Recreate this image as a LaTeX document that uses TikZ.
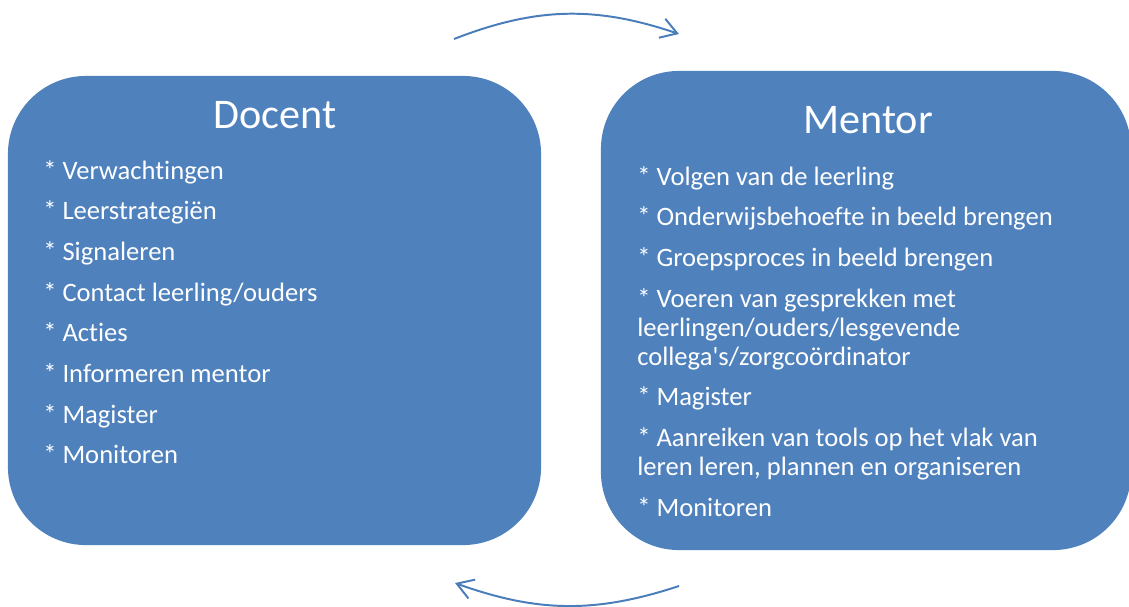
\documentclass[tikz,border=0pt]{standalone}
\usepackage{fontspec}
\setmainfont{Carlito}
\newfontfamily\kaderfont{Carlito}[Ligatures=NoCommon]
\usepackage{tikz}
\usetikzlibrary{positioning}
\usetikzlibrary{arrows.meta}
\definecolor{blokblauw}{HTML}{4F81BD}
\definecolor{pijlblauw}{HTML}{4A7EBB}
\tikzset{blok/.style={fill=blokblauw, rounded corners=1.95cm, inner sep=0pt}}
\tikzset{titel/.style={text=white, font=\kaderfont\fontsize{30}{36}\selectfont, inner sep=0pt, anchor=base}}
\tikzset{lijst/.style={text=white, font=\kaderfont\fontsize{18.9}{20.6}\selectfont, align=left, inner sep=0pt, anchor=north west}}
\tikzset{pijl/.style={draw=pijlblauw, line width=1.4pt, -{Straight Barb[length=0.4cm, width=0.5cm]}}}

\begin{document}
\begin{tikzpicture}[x=0.025cm, y=-0.025cm]
\useasboundingbox (0,0) rectangle (1129,606);
% blokken
\node[blok, minimum width=13.325cm, minimum height=11.725cm] (docent) at (274.5,310.5) {};
\node[blok, minimum width=13.25cm, minimum height=11.975cm] (mentor) at (866,310.5) {};
\node[titel] (docenttitel) at (275,128) {Docent};
\node[titel] (mentortitel) at (868,133) {Mentor};
% lijsten, eerste regel met \strut
\node[lijst] (docentlijst) at (43,158.7) {\strut* Verwachtingen\\[8.3pt]
* Leerstrategiën\\[8.3pt]
* Signaleren\\[8.3pt]
* Contact leerling/ouders\\[8.3pt]
* Acties\\[8.3pt]
* Informeren mentor\\[8.3pt]
* Magister\\[8.3pt]
* Monitoren};
\node[lijst] (mentorlijst) at (637,164.7) {\strut* Volgen van de leerling\\[8.3pt]
* Onderwijsbehoefte in beeld brengen\\[8.3pt]
* Groepsproces in beeld brengen\\[8.3pt]
* Voeren van gesprekken met\\
leerlingen/ouders/lesgevende\\
collega's/zorgcoördinator\\[8.3pt]
* Magister\\[8.3pt]
* Aanreiken van tools op het vlak van\\
leren leren, plannen en organiseren\\[8.3pt]
* Monitoren};
% pijlen
\coordinate (boven1) at (454,39);
\coordinate (boven2) at (679,34);
\coordinate (onder1) at (679,586);
\coordinate (onder2) at (455,583);
\draw[pijl] (boven1) to[bend left=20] (boven2);
\draw[pijl] (onder1) to[bend left=19] (onder2);
\end{tikzpicture}
\end{document}
